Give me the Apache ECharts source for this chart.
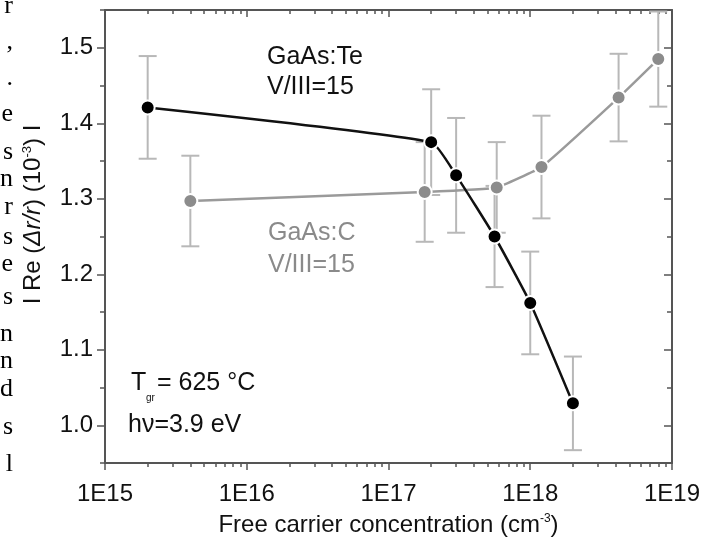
<!DOCTYPE html>
<html><head><meta charset="utf-8">
<script src="https://cdn.jsdelivr.net/npm/echarts@6/dist/echarts.min.js"></script>
<style>html,body{margin:0;padding:0;background:#fff}#c{width:717px;height:542px}</style>
</head><body><div id="c"></div>
<script>
// ---- data ----
const teConc = [2e15, 2e17, 3e17, 5.6e17, 1.0e18, 2.0e18];
const teVal  = [1.421, 1.375, 1.331, 1.250, 1.162, 1.029];
const teErr  = [0.068, 0.070, 0.076, 0.067, 0.068, 0.062];

const cConc = [4e15, 1.8e17, 5.8e17, 1.2e18, 4.2e18, 8e18];
const cVal  = [1.297, 1.309, 1.315, 1.342, 1.434, 1.485];
const cErr  = [0.060, 0.066, 0.060, 0.068, 0.058, 0.063];

// ---- ticks ----
const xDecades = [15, 16, 17, 18];
const xMinorMult = [2, 3, 4, 5, 6, 7, 8, 9];
const yLabels = [1.0, 1.1, 1.2, 1.3, 1.4, 1.5];
const yMinorTicks = [0.95, 1.05, 1.15, 1.25, 1.35, 1.45, 1.55];

const xMinorLog = [];
xDecades.forEach(d => xMinorMult.forEach(m => xMinorLog.push(d + Math.log10(m))));

const FONT = '"Liberation Sans", Arial, sans-serif';
const AX = '#555';
const ERRC = '#b8b8b8';
const TXT = '#111';

function errRender(params, api) {
  const x = api.value(0), y = api.value(1), e = api.value(2);
  const t = api.coord([x, y + e]);
  const b = api.coord([x, y - e]);
  const hw = 9;
  const st = { stroke: ERRC, lineWidth: 2 };
  return { type: 'group', children: [
    { type: 'line', shape: { x1: t[0], y1: t[1], x2: b[0], y2: b[1] }, style: st },
    { type: 'line', shape: { x1: t[0] - hw, y1: t[1], x2: t[0] + hw, y2: t[1] }, style: st },
    { type: 'line', shape: { x1: b[0] - hw, y1: b[1], x2: b[0] + hw, y2: b[1] }, style: st }
  ]};
}

const teData = teConc.map((x, i) => [x, teVal[i], teErr[i]]);
const cData = cConc.map((x, i) => [x, cVal[i], cErr[i]]);

const grid = { left: 105, right: 45, top: 10, bottom: 77 };

const hiddenLine = { show: false };
const xAxes = [
  { type: 'log', logBase: 10, min: 1e15, max: 1e19, interval: 1, position: 'bottom',
    axisLine: { show: true, onZero: false, lineStyle: { color: AX, width: 2 } },
    axisTick: { show: true, inside: false, length: 7, lineStyle: { color: AX, width: 1.5 } },
    axisLabel: { show: true, margin: 19, color: TXT, fontSize: 24, fontFamily: FONT,
      formatter: v => '1E' + Math.round(Math.log10(v)) },
    splitLine: { show: false }, minorTick: { show: false },
    name: 'Free carrier concentration (cm{sup|-3})', nameLocation: 'middle', nameGap: 50,
    nameTextStyle: { color: TXT, fontSize: 24, fontFamily: FONT,
      rich: { sup: { fontSize: 12, verticalAlign: 'top', fontFamily: FONT, color: TXT } } } },
  { type: 'value', min: 15, max: 19, position: 'bottom',
    axisLine: hiddenLine, axisLabel: { show: false }, splitLine: { show: false },
    axisTick: { show: true, inside: false, length: 4, customValues: xMinorLog, lineStyle: { color: AX, width: 1.5 } } },
  { type: 'log', logBase: 10, min: 1e15, max: 1e19, interval: 1, position: 'top',
    axisLine: { show: true, onZero: false, lineStyle: { color: AX, width: 2 } },
    axisTick: { show: true, inside: true, length: 7, lineStyle: { color: AX, width: 1.5 } },
    axisLabel: { show: false }, splitLine: { show: false } },
  { type: 'value', min: 15, max: 19, position: 'top',
    axisLine: hiddenLine, axisLabel: { show: false }, splitLine: { show: false },
    axisTick: { show: true, inside: true, length: 4, customValues: xMinorLog, lineStyle: { color: AX, width: 1.5 } } }
];

const yAxes = [
  { type: 'value', min: 0.95, max: 1.55, position: 'left',
    axisLine: { show: true, onZero: false, lineStyle: { color: AX, width: 2 } },
    axisTick: { show: true, inside: false, length: 8, customValues: yLabels, lineStyle: { color: AX, width: 1.5 } },
    axisLabel: { show: true, margin: 12, customValues: yLabels, color: TXT, fontSize: 24, fontFamily: FONT,
      formatter: v => v.toFixed(1) },
    splitLine: { show: false },
    name: 'I Re ({i|Δr/r}) (10{sup|-3}) I', nameLocation: 'middle', nameGap: 60, nameRotate: 90,
    nameTextStyle: { color: TXT, fontSize: 24, fontFamily: FONT, padding: [0, 0, 0, 44],
      rich: { i: { fontStyle: 'italic', fontSize: 24, fontFamily: FONT, color: TXT },
              sup: { fontSize: 13, verticalAlign: 'top', fontFamily: FONT, color: TXT } } } },
  { type: 'value', min: 0.95, max: 1.55, position: 'left',
    axisLine: hiddenLine, axisLabel: { show: false }, splitLine: { show: false },
    axisTick: { show: true, inside: false, length: 5, customValues: yMinorTicks, lineStyle: { color: AX, width: 1.5 } } },
  { type: 'value', min: 0.95, max: 1.55, position: 'right',
    axisLine: { show: true, onZero: false, lineStyle: { color: AX, width: 2 } },
    axisTick: { show: true, inside: true, length: 8, customValues: yLabels, lineStyle: { color: AX, width: 1.5 } },
    axisLabel: { show: false }, splitLine: { show: false } },
  { type: 'value', min: 0.95, max: 1.55, position: 'right',
    axisLine: hiddenLine, axisLabel: { show: false }, splitLine: { show: false },
    axisTick: { show: true, inside: true, length: 5, customValues: yMinorTicks, lineStyle: { color: AX, width: 1.5 } } }
];

// scanned page fragments on the left margin
const marginLetters = ['r', ',', '.', 'e', 's', 'n', 'r', 's', 'e', 's', 'n', 'n', 'd', 's', 'l'];
const marginBaselines = [14, 50, 86, 122, 160, 187, 215, 245, 272, 305, 342, 369, 397, 435, 472];

const graphics = [];
marginLetters.forEach((ch, i) => {
  graphics.push({ type: 'text', x: 13, y: marginBaselines[i] - 8,
    style: { text: ch, fill: '#000', font: '26px "Liberation Serif", serif', align: 'right', verticalAlign: 'middle' } });
});
const annFont = '25px ' + FONT;
graphics.push(
  { type: 'text', x: 267, y: 57, style: { text: 'GaAs:Te', fill: TXT, font: annFont, verticalAlign: 'middle' } },
  { type: 'text', x: 267, y: 87, style: { text: 'V/III=15', fill: TXT, font: annFont, verticalAlign: 'middle' } },
  { type: 'text', x: 268, y: 233, style: { text: 'GaAs:C', fill: '#8a8a8a', font: annFont, verticalAlign: 'middle' } },
  { type: 'text', x: 268, y: 265, style: { text: 'V/III=15', fill: '#8a8a8a', font: annFont, verticalAlign: 'middle' } },
  { type: 'text', x: 131, y: 383, style: { text: 'T', fill: TXT, font: annFont, verticalAlign: 'middle' } },
  { type: 'text', x: 146, y: 398, style: { text: 'gr', fill: TXT, font: '10px ' + FONT, verticalAlign: 'middle' } },
  { type: 'text', x: 157, y: 383, style: { text: '= 625 °C', fill: TXT, font: annFont, verticalAlign: 'middle' } },
  { type: 'text', x: 128, y: 425, style: { text: 'hν=3.9 eV', fill: TXT, font: annFont, verticalAlign: 'middle' } }
);

const option = {
  animation: false,
  backgroundColor: '#fff',
  grid: grid,
  xAxis: xAxes,
  yAxis: yAxes,
  graphic: graphics,
  series: [
    { type: 'custom', name: 'errTe', xAxisIndex: 0, yAxisIndex: 0, renderItem: errRender,
      encode: { x: 0, y: 1 }, data: teData, z: 1, clip: false },
    { type: 'custom', name: 'errC', xAxisIndex: 0, yAxisIndex: 0, renderItem: errRender,
      encode: { x: 0, y: 1 }, data: cData, z: 1, clip: false },
    { type: 'line', name: 'GaAs:C', xAxisIndex: 0, yAxisIndex: 0, data: cData.map(d => [d[0], d[1]]),
      smooth: 0.1, symbol: 'circle', symbolSize: 14,
      lineStyle: { color: '#9a9a9a', width: 2.5 },
      itemStyle: { color: '#8c8c8c', borderColor: '#fff', borderWidth: 2 }, z: 3 },
    { type: 'line', name: 'GaAs:Te', xAxisIndex: 0, yAxisIndex: 0, data: teData.map(d => [d[0], d[1]]),
      smooth: 0.15, symbol: 'circle', symbolSize: 14,
      lineStyle: { color: '#111', width: 2.5 },
      itemStyle: { color: '#000', borderColor: '#fff', borderWidth: 2 }, z: 4 }
  ]
};

const chart = echarts.init(document.getElementById('c'), null, { renderer: 'canvas' });
chart.setOption(option);
</script>
</body></html>
